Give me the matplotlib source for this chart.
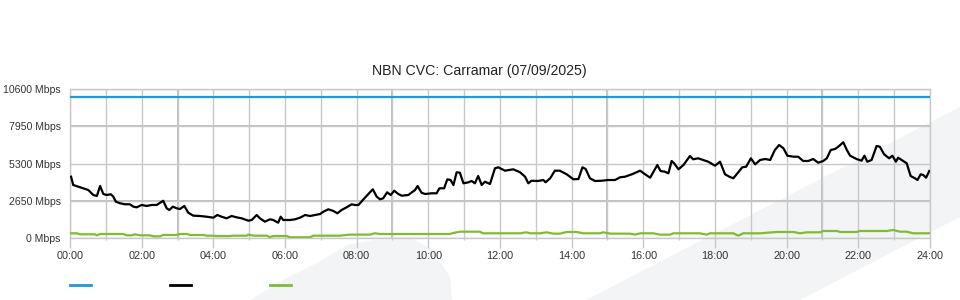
import matplotlib
matplotlib.use("Agg")
import matplotlib.pyplot as plt
from matplotlib.patches import Polygon
from matplotlib.lines import Line2D

plt.rcParams['font.family'] = ['Liberation Sans', 'DejaVu Sans']

TITLE = "NBN CVC: Carramar (07/09/2025)"
y_ticks = [0, 2650, 5300, 7950, 10600]
y_tick_labels = ["0 Mbps", "2650 Mbps", "5300 Mbps", "7950 Mbps", "10600 Mbps"]
x_ticks = list(range(0, 25, 2))
x_tick_labels = ["%02d:00" % h for h in x_ticks]

# Capacity (blue)
cap_times = [0.0, 24.0]
cap_values = [10000, 10000]

# Download (black) - hours, Mbps
dl_times = [0.03, 0.09, 0.23, 0.37, 0.51, 0.65, 0.75, 0.84, 0.93, 1.02, 1.14, 1.21, 1.28, 1.40,
            1.53, 1.67, 1.77, 1.86, 2.00, 2.14, 2.28, 2.42, 2.60, 2.70, 2.77, 2.87, 2.98, 3.07,
            3.19, 3.30, 3.44, 3.63, 3.81, 4.00, 4.11, 4.23, 4.37, 4.51, 4.65, 4.79, 4.98, 5.07,
            5.21, 5.30, 5.44, 5.58, 5.67, 5.81, 5.88, 5.95, 6.14, 6.28, 6.42, 6.56, 6.70, 6.84,
            6.98, 7.07, 7.21, 7.35, 7.46, 7.58, 7.72, 7.86, 7.95, 8.05, 8.19, 8.32, 8.45, 8.56,
            8.65, 8.74, 8.85, 8.95, 9.05, 9.16, 9.26, 9.44, 9.54, 9.63, 9.70, 9.81, 9.91, 10.09,
            10.23, 10.31, 10.44, 10.53, 10.62, 10.70, 10.79, 10.88, 10.98, 11.12, 11.21, 11.30,
            11.39, 11.49, 11.58, 11.72, 11.86, 11.95, 12.14, 12.37, 12.56, 12.70, 12.79, 12.88,
            13.06, 13.21, 13.27, 13.40, 13.53, 13.67, 13.86, 14.05, 14.19, 14.30, 14.39, 14.51,
            14.65, 14.84, 15.02, 15.21, 15.35, 15.49, 15.68, 15.91, 16.05, 16.19, 16.39, 16.48,
            16.60, 16.70, 16.79, 16.86, 16.98, 17.12, 17.30, 17.39, 17.53, 17.67, 17.81, 18.00,
            18.14, 18.28, 18.40, 18.51, 18.65, 18.76, 18.87, 19.00, 19.12, 19.26, 19.40, 19.54,
            19.67, 19.79, 19.91, 20.02, 20.19, 20.32, 20.46, 20.60, 20.74, 20.88, 21.02, 21.12,
            21.23, 21.35, 21.44, 21.58, 21.68, 21.77, 21.95, 22.09, 22.17, 22.25, 22.37, 22.51,
            22.60, 22.72, 22.86, 22.95, 23.05, 23.11, 23.25, 23.35, 23.46, 23.58, 23.65, 23.74,
            23.81, 23.89, 23.98]
dl_values = [4360, 3770, 3650, 3530, 3415, 3060, 2990, 3700, 3130, 3060, 3110, 2940, 2580, 2470,
             2400, 2400, 2230, 2180, 2350, 2280, 2350, 2350, 2650, 2110, 1990, 2230, 2110, 2060,
             2280, 1800, 1590, 1565, 1515, 1445, 1636, 1515, 1400, 1565, 1470, 1400, 1230, 1280,
             1636, 1400, 1160, 1330, 1280, 1090, 1515, 1280, 1280, 1330, 1445, 1636, 1565, 1636,
             1707, 1871, 2042, 1921, 1757, 1992, 2184, 2397, 2348, 2348, 2753, 3109, 3465, 2938,
             2753, 2824, 3251, 3059, 3365, 3130, 3009, 3059, 3251, 3415, 3699, 3223, 3130, 3180,
             3180, 3536, 3536, 4176, 4126, 3770, 4674, 4645, 3891, 3962, 4055, 3891,
             4411, 3770, 4005, 3842, 4958, 5030, 4788, 4887, 4674, 4361, 3891, 4076,
             4055, 4126, 3962, 4247, 4788, 4788, 4532, 4176, 4197, 5030, 4909, 4247,
             4055, 4076, 4126, 4126, 4318, 4361, 4532, 4788, 4532, 4290, 5193, 4766,
             4717, 4603, 5478, 5314, 4887, 5193, 5833, 5599, 5670, 5549, 5428, 5144,
             5428, 4532, 4361, 4247, 4674, 5030, 5072, 5670, 5243, 5549, 5620, 5549,
             6260, 6616, 6381, 5855, 5784, 5784, 5478, 5478, 5620, 5357, 5478, 5670,
             6260, 6331, 6495, 6808, 6260, 5855, 5620, 5499, 5855, 5428, 5549, 6545,
             6495, 5954, 5670, 5855, 5428, 5713, 5478, 5314, 4411, 4247, 4126, 4532,
             4482, 4290, 4766]

# Upload (green) - hours, Mbps
ul_times = [0.03, 0.19, 0.28, 0.70, 0.75, 0.84, 1.49, 1.58, 1.72, 1.81, 1.95, 2.23, 2.33, 2.51,
            2.60, 2.98, 3.07, 3.26, 3.35, 3.72, 3.81, 4.00, 4.09, 4.47, 4.56, 4.93, 4.98, 5.12,
            5.49, 5.58, 5.67, 6.05, 6.14, 6.70, 6.79, 6.98, 7.53, 7.81, 8.37, 8.51, 8.65, 9.95,
            10.60, 10.70, 10.88, 11.44, 11.53, 12.56, 12.74, 12.84, 13.12, 13.30, 13.49, 13.67,
            13.86, 14.14, 14.33, 14.79, 14.88, 15.07, 15.63, 15.77, 15.91, 16.28, 16.47, 16.74,
            16.84, 17.58, 17.77, 17.86, 18.51, 18.65, 18.79, 19.26, 19.72, 20.19, 20.37, 20.56,
            20.93, 21.02, 21.40, 21.49, 21.95, 22.05, 22.79, 22.98, 23.16, 23.35, 23.53, 24.0]
ul_values = [334, 334, 263, 263, 190, 285, 285, 190, 190, 263, 190, 190, 120, 120,
             215, 215, 285, 285, 215, 215, 165, 165, 140, 140, 165, 165, 240, 165,
             165, 70, 140, 140, 50, 50, 165, 165, 165, 240, 240, 334, 285, 285,
             285, 358, 450, 450, 334, 334, 405, 334, 334, 405, 310, 310,
             427, 427, 334, 334, 405, 310, 310, 240, 334, 334, 237, 237,
             334, 334, 237, 334, 334, 166, 334, 334, 427, 427, 334, 405,
             405, 498, 498, 427, 427, 498, 498, 570, 450, 450, 334, 334]

W, H = 960, 300
fig = plt.figure(figsize=(W / 100, H / 100), dpi=100)
fig.patch.set_facecolor('white')

def px(pts):
    return [(x / W, 1 - y / H) for x, y in pts]

bg = '#f3f4f6'
fig.patches.append(Polygon(px([(586, 300), (960, 107), (960, 217), (800, 300)]),
                           closed=True, transform=fig.transFigure, facecolor=bg,
                           edgecolor='none', zorder=-5))
fig.patches.append(Polygon(px([(250, 300), (283, 280), (317, 263), (347, 245), (373, 240),
                               (413, 239), (433, 250), (450, 277), (452, 300)]),
                           closed=True, transform=fig.transFigure, facecolor=bg,
                           edgecolor='none', zorder=-5))

ax = fig.add_axes([70 / W, 62 / H, 860 / W, 149 / H])
ax.set_zorder(2)
ax.set_facecolor('none')
ax.set_xlim(0, 24)
ax.set_ylim(0, 10600)

gc = '#c8c8c8'
ax.set_xticks(x_ticks)
ax.set_xticklabels(x_tick_labels)
ax.set_xticks(range(0, 25), minor=True)
ax.set_yticks(y_ticks)
ax.set_yticklabels(y_tick_labels)
ax.grid(True, which='both', axis='x', color=gc, lw=1.0, zorder=1)
ax.grid(True, which='major', axis='y', color=gc, lw=1.0, zorder=1)
for h in [3, 9, 15, 21]:
    ax.axvline(h, color='#c0c0c0', lw=1.4, zorder=1)
for v in [2650, 7950]:
    ax.axhline(v, color='#c0c0c0', lw=1.4, zorder=1)
for s in ax.spines.values():
    s.set_color(gc)
    s.set_linewidth(1.0)

ax.tick_params(axis='x', which='major', length=7.2, width=1.0, color=gc, pad=2,
               labelsize=7.8, labelcolor='#333333')
ax.tick_params(axis='x', which='minor', length=1.5, width=1.0, color=gc)
ax.tick_params(axis='y', length=0, pad=6.8, labelsize=7.6, labelcolor='#333333')

ax.plot(cap_times, cap_values, color='#1f9ad6', lw=1.6, zorder=3)
ax.plot(dl_times, dl_values, color='#000000', lw=1.6, zorder=4)
ax.plot(ul_times, ul_values, color='#7dbd2f', lw=1.6, zorder=3)

fig.text(479 / W, 1 - 71 / H, TITLE, ha='center', va='center', fontsize=10.2, color='#222222')

for x0, c in [(70, '#1f9ad6'), (170, '#000000'), (270, '#7dbd2f')]:
    fig.lines.append(Line2D([x0 / W, (x0 + 21) / W], [1 - 285 / H, 1 - 285 / H],
                            transform=fig.transFigure, color=c, lw=2.0))

fig.savefig('out.png', dpi=100)
